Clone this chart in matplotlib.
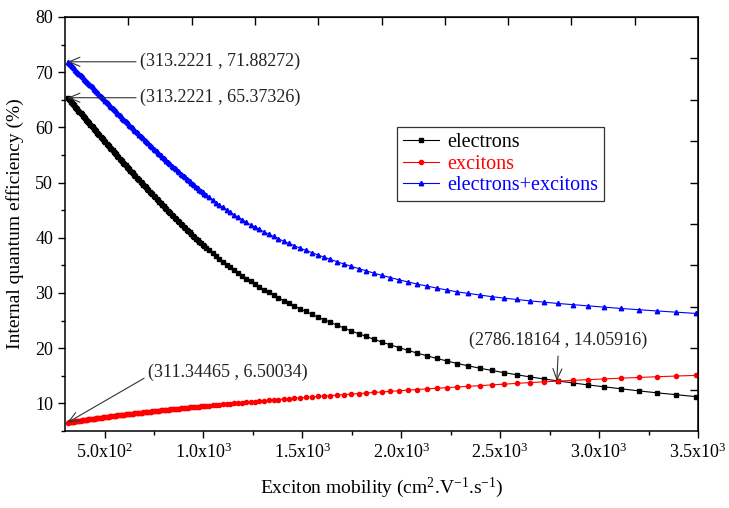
import matplotlib
matplotlib.use("Agg")
import matplotlib.pyplot as plt
import numpy as np
from matplotlib.ticker import MultipleLocator, NullLocator

# exciton mobility (cm2 V-1 s-1), same grid for the three curves
mobility = [313, 318, 324, 329, 335, 340, 346, 351, 357, 362, 368, 373, 379, 384,
            390, 395, 401, 406, 412, 417, 423, 428, 434, 439, 445, 450, 456, 462,
            468, 474, 480, 486, 492, 498, 504, 510, 516, 522, 528, 534, 540, 546,
            552, 558, 564, 570, 576, 582, 588, 594, 600, 606, 612, 618, 624, 630,
            637, 643, 650, 656, 663, 669, 676, 682, 689, 695, 702, 708, 715, 721,
            728, 735, 742, 749, 756, 763, 770, 777, 784, 791, 798, 805, 812, 819,
            826, 833, 840, 847, 855, 862, 870, 877, 885, 892, 900, 907, 915, 922,
            930, 938, 946, 954, 962, 970, 978, 986, 995, 1004,
            1013, 1029, 1046, 1063, 1080, 1098, 1117, 1135, 1155, 1175, 1195, 1216,
            1238, 1260, 1282, 1305, 1329, 1354, 1379, 1405, 1432, 1459, 1488, 1517,
            1547, 1578, 1609, 1642, 1676, 1711, 1747, 1784, 1822, 1862, 1902, 1945,
            1988, 2033, 2080, 2128, 2178, 2230, 2283, 2339, 2397, 2456, 2518, 2583,
            2650, 2719, 2792, 2867, 2945, 3027, 3112, 3200, 3293, 3389, 3490]

electrons = [65.37, 65.14, 64.90, 64.67, 64.44, 64.21, 63.97, 63.74, 63.50, 63.27,
             63.04, 62.81, 62.57, 62.34, 62.10, 61.87, 61.64, 61.41, 61.17, 60.94,
             60.71, 60.48, 60.25, 60.02, 59.79, 59.56, 59.32, 59.07, 58.82, 58.57,
             58.31, 58.06, 57.81, 57.56, 57.31, 57.06, 56.81, 56.57, 56.32, 56.08,
             55.83, 55.59, 55.34, 55.10, 54.85, 54.60, 54.35, 54.11, 53.86, 53.62,
             53.37, 53.14, 52.90, 52.67, 52.43, 52.18, 51.92, 51.67, 51.41, 51.16,
             50.90, 50.65, 50.39, 50.14, 49.88, 49.63, 49.38, 49.13, 48.88, 48.63,
             48.38, 48.12, 47.85, 47.58, 47.31, 47.04, 46.77, 46.51, 46.24, 45.97,
             45.70, 45.43, 45.16, 44.91, 44.66, 44.41, 44.15, 43.89, 43.62, 43.35,
             43.08, 42.81, 42.54, 42.27, 42.00, 41.74, 41.48, 41.22, 40.96, 40.69,
             40.41, 40.14, 39.86, 39.59, 39.31, 39.04, 38.76, 38.48,
             38.20, 37.70, 37.17, 36.65, 36.16, 35.67,
             35.14, 34.65, 34.10, 33.62, 33.13, 32.61, 32.08, 31.60, 31.12, 30.62,
             30.12, 29.62, 29.13, 28.62, 28.13, 27.65, 27.13, 26.65, 26.15, 25.64,
             25.17, 24.66, 24.14, 23.64, 23.13, 22.63, 22.12, 21.61, 21.11, 20.60,
             20.10, 19.62, 19.11, 18.64, 18.15, 17.69, 17.22, 16.81, 16.37, 15.98,
             15.57, 15.19, 14.80, 14.44, 14.06, 13.71, 13.34, 12.99, 12.62, 12.27,
             11.91, 11.57, 11.22]

excitons = [6.51, 6.54, 6.57, 6.60, 6.63, 6.67, 6.70, 6.73, 6.76, 6.79,
            6.82, 6.85, 6.88, 6.91, 6.94, 6.97, 7.00, 7.03, 7.06, 7.09,
            7.12, 7.15, 7.18, 7.21, 7.23, 7.26, 7.29, 7.32, 7.35, 7.38,
            7.41, 7.44, 7.47, 7.50, 7.53, 7.56, 7.58, 7.61, 7.64, 7.67,
            7.69, 7.72, 7.75, 7.78, 7.81, 7.84, 7.86, 7.89, 7.91, 7.94,
            7.97, 8.00, 8.02, 8.05, 8.07, 8.10, 8.13, 8.16, 8.18, 8.21,
            8.24, 8.27, 8.29, 8.32, 8.34, 8.37, 8.40, 8.43, 8.45, 8.48,
            8.50, 8.53, 8.56, 8.59, 8.61, 8.64, 8.67, 8.70, 8.72, 8.75,
            8.77, 8.80, 8.83, 8.86, 8.88, 8.91, 8.93, 8.96, 8.99, 9.02,
            9.04, 9.07, 9.10, 9.13, 9.15, 9.18, 9.21, 9.24, 9.26, 9.29,
            9.31, 9.34, 9.37, 9.40, 9.43, 9.46, 9.48, 9.52,
            9.55, 9.60, 9.66, 9.71, 9.77, 9.83,
            9.89, 9.95, 10.01, 10.07, 10.14, 10.20, 10.27, 10.34, 10.40, 10.47,
            10.54, 10.62, 10.69, 10.76, 10.84, 10.92, 11.00, 11.08, 11.16, 11.25,
            11.33, 11.42, 11.51, 11.60, 11.69, 11.79, 11.88, 11.98, 12.08, 12.19,
            12.29, 12.40, 12.51, 12.63, 12.74, 12.86, 12.98, 13.11, 13.24, 13.36,
            13.50, 13.63, 13.77, 13.90, 14.04, 14.17, 14.30, 14.44, 14.57, 14.70,
            14.83, 14.95, 15.08]

total = [71.88, 71.68, 71.47, 71.27, 71.07, 70.87, 70.67, 70.47, 70.26, 70.06,
         69.86, 69.66, 69.45, 69.25, 69.04, 68.84, 68.64, 68.44, 68.23, 68.03,
         67.83, 67.63, 67.43, 67.23, 67.02, 66.82, 66.61, 66.39, 66.17, 65.95,
         65.72, 65.50, 65.28, 65.06, 64.84, 64.62, 64.39, 64.18, 63.96, 63.74,
         63.52, 63.31, 63.09, 62.88, 62.66, 62.44, 62.21, 61.99, 61.77, 61.56,
         61.34, 61.13, 60.92, 60.71, 60.50, 60.28, 60.05, 59.82, 59.59, 59.37,
         59.14, 58.91, 58.68, 58.45, 58.22, 58.00, 57.78, 57.56, 57.33, 57.11,
         56.88, 56.65, 56.41, 56.17, 55.92, 55.68, 55.44, 55.20, 54.96, 54.72,
         54.47, 54.23, 53.99, 53.77, 53.54, 53.31, 53.08, 52.85, 52.61, 52.37,
         52.12, 51.88, 51.64, 51.40, 51.15, 50.92, 50.69, 50.46, 50.22, 49.97,
         49.72, 49.48, 49.23, 48.99, 48.74, 48.49, 48.24, 48.00,
         47.75, 47.30, 46.83, 46.36, 45.93, 45.50,
         45.03, 44.60, 44.11, 43.69, 43.27, 42.81, 42.35, 41.94, 41.52, 41.09,
         40.66, 40.24, 39.82, 39.38, 38.97, 38.57, 38.13, 37.73, 37.31, 36.89,
         36.50, 36.08, 35.65, 35.24, 34.82, 34.42, 34.00, 33.59, 33.19, 32.79,
         32.39, 32.02, 31.62, 31.27, 30.89, 30.55, 30.20, 29.92, 29.61, 29.34,
         29.07, 28.82, 28.57, 28.34, 28.10, 27.88, 27.64, 27.43, 27.19, 26.97,
         26.74, 26.52, 26.30]

x_ticks = [500, 1000, 1500, 2000, 2500, 3000, 3500]
x_tick_labels = ["5.0x10$^{2}$", "1.0x10$^{3}$", "1.5x10$^{3}$", "2.0x10$^{3}$",
                 "2.5x10$^{3}$", "3.0x10$^{3}$", "3.5x10$^{3}$"]
y_ticks = [10, 20, 30, 40, 50, 60, 70, 80]

# annotated points: (x, y) and the label shown
marked_points = [(313.2221, 71.88272), (313.2221, 65.37326),
                 (311.34465, 6.50034), (2786.18164, 14.05916)]
marked_texts = ["(313.2221 , 71.88272)", "(313.2221 , 65.37326)",
                "(311.34465 , 6.50034)", "(2786.18164 , 14.05916)"]


def main():
    plt.rcParams["font.family"] = ["Liberation Serif", "DejaVu Serif"]
    plt.rcParams["mathtext.fontset"] = "custom"
    plt.rcParams["mathtext.rm"] = "Liberation Serif"
    plt.rcParams["mathtext.default"] = "regular"

    fig = plt.figure(figsize=(7.29, 5.08), dpi=100)
    ax = fig.add_axes([0.0892, 0.1516, 0.8683, 0.8150])

    ax.plot(mobility, electrons, "-s", color="black", lw=0.8, ms=2.7, label="electrons")
    ax.plot(mobility, excitons, "-o", color="red", lw=0.8, ms=3.0, label="excitons")
    ax.plot(mobility, total, "-^", color="blue", lw=0.8, ms=3.2, label="electrons+excitons")

    ax.set_xlim(300, 3500)
    ax.set_ylim(5, 80)
    ax.set_xticks(x_ticks)
    ax.set_xticklabels(x_tick_labels)
    ax.xaxis.set_minor_locator(MultipleLocator(250))
    ax.set_yticks(y_ticks)
    ax.yaxis.set_minor_locator(MultipleLocator(5))
    ax.tick_params(which="major", direction="out", length=5, width=1, labelsize=13)
    ax.tick_params(which="minor", direction="out", length=3, width=1)
    for sp in ax.spines.values():
        sp.set_linewidth(1.1)

    # opposite axes: ten equal divisions, ticks pointing in
    top = ax.secondary_xaxis("top")
    top.set_xticks(np.linspace(300, 3500, 11)[1:-1])
    top.xaxis.set_minor_locator(NullLocator())
    top.tick_params(direction="in", length=6, width=1, labeltop=False)
    right = ax.secondary_yaxis("right")
    right.set_yticks(np.linspace(5, 80, 11)[1:-1])
    right.yaxis.set_minor_locator(NullLocator())
    right.tick_params(direction="in", length=6, width=1, labelright=False)

    ax.set_xlabel("Exciton mobility (cm$^{2}$.V$^{-1}$.s$^{-1}$)", fontsize=14, labelpad=10)
    ax.set_ylabel("Internal quantum efficiency (%)", fontsize=14, labelpad=8)

    arrow = dict(arrowstyle="->,head_length=0.6,head_width=0.25", color="#333333",
                 lw=0.8, shrinkA=1, shrinkB=0)
    ax.annotate(marked_texts[0], xy=marked_points[0], xytext=(680, marked_points[0][1]),
                ha="left", va="center", fontsize=13, color="#222222",
                arrowprops=dict(arrow, relpos=(0, 0.5)))
    ax.annotate(marked_texts[1], xy=marked_points[1], xytext=(680, marked_points[1][1]),
                ha="left", va="center", fontsize=13, color="#222222",
                arrowprops=dict(arrow, relpos=(0, 0.5)))
    ax.annotate(marked_texts[2], xy=marked_points[2], xytext=(720, 15.6),
                ha="left", va="center", fontsize=13, color="#222222",
                arrowprops=dict(arrow, relpos=(0, 0.3)))
    ax.annotate(marked_texts[3], xy=marked_points[3], xytext=(2794, 21.4),
                ha="center", va="center", fontsize=13, color="#222222",
                arrowprops=dict(arrow, relpos=(0.5, 0), shrinkA=3))

    leg = ax.legend(loc="upper left", bbox_to_anchor=(0.5245, 0.734), borderaxespad=0,
                    fontsize=14.5, handlelength=1.8, labelspacing=0.12, borderpad=0.3,
                    handletextpad=0.4, numpoints=1, fancybox=False, framealpha=1,
                    edgecolor="#333333")
    leg.get_frame().set_linewidth(0.9)
    for text, line in zip(leg.get_texts(), leg.get_lines()):
        text.set_color(line.get_color())

    fig.savefig("out.png", dpi=100)


if __name__ == "__main__":
    main()
